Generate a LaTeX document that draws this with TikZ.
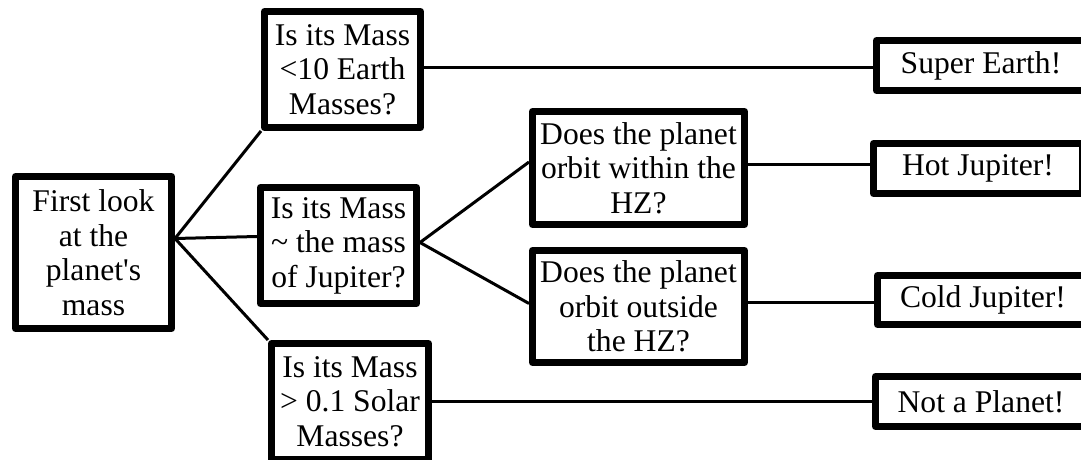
\documentclass[tikz,border=0pt]{standalone}
\usepackage{fontspec}
\setmainfont{Liberation Serif}
\begin{document}
\begin{tikzpicture}[x=1pt,y=-1pt,
  box/.style={draw=black,line width=7pt,line join=round,inner sep=0pt,align=center,
    font=\fontsize{31.6}{34.5}\selectfont},
  conn/.style={draw=black,line width=3pt}]
\useasboundingbox (0,0) rectangle (1081,460);
\clip (0,0) rectangle (1081,460);
\node[box,minimum width=156pt,minimum height=152pt] (b1) at (93.5,252.5) {First look\\at the\\planet\textquotesingle s\\mass};
\node[box,minimum width=156pt,minimum height=116pt] (b2) at (342.5,69.5) {Is its Mass\\<10 Earth\\Masses?};
\node[box,minimum width=156pt,minimum height=116pt] (b3) at (338.5,245.5) {Is its Mass\\\textasciitilde{} the mass\\of Jupiter?};
\node[box,minimum width=157pt,minimum height=116pt] (b4) at (350,401.5) {Is its Mass\\> 0.1 Solar\\Masses?};
\node[box,minimum width=212pt,minimum height=113pt] (b5) at (638.5,168) {Does the planet\\orbit within the\\HZ?};
\node[box,minimum width=212pt,minimum height=112pt] (b6) at (638.5,306.5) {Does the planet\\orbit outside\\the HZ?};
\node[box,minimum width=209pt,minimum height=50pt] (se) at (981,65.5) {Super Earth!};
\node[box,minimum width=209pt,minimum height=50pt] (hj) at (978,168.5) {Hot Jupiter!};
\node[box,minimum width=211pt,minimum height=49pt] (cj) at (983,300) {Cold Jupiter!};
\node[box,minimum width=211pt,minimum height=50pt] (nap) at (981,401.5) {Not a Planet!};
\coordinate (src) at ([yshift=14pt]b1.east);
\draw[conn] (src) -- (b2.south west);
\draw[conn] (src) -- ([yshift=9pt]b3.west);
\draw[conn] (src) -- (b4.north west);
\draw[conn] ([yshift=2pt]b2.east) -- ([yshift=2pt]b2.east -| se.west);
\draw[conn] ([yshift=3pt]b3.east) -- ([yshift=6pt]b5.west);
\draw[conn] ([yshift=3pt]b3.east) -- ([yshift=3pt]b6.west);
\draw[conn] ([yshift=4pt]b5.east) -- ([yshift=4pt]b5.east -| hj.west);
\draw[conn] ([yshift=4pt]b6.east) -- ([yshift=4pt]b6.east -| cj.west);
\draw[conn] (b4.east) -- (b4.east -| nap.west);
\end{tikzpicture}
\end{document}
